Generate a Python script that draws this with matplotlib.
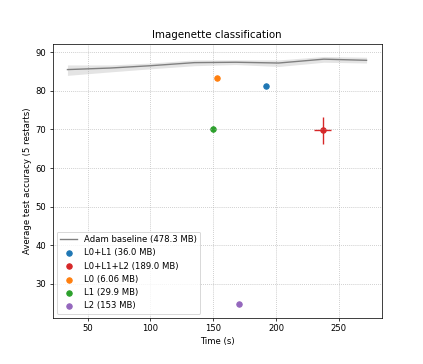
import matplotlib
matplotlib.use("Agg")
import matplotlib.pyplot as plt
import numpy as np

# Baseline (Adam) curve
base_time = [34, 68, 100, 135, 168, 202, 238, 272]
base_acc = [85.5, 85.9, 86.5, 87.3, 87.4, 87.2, 88.2, 87.9]
base_lo = [84.0, 84.9, 85.7, 86.5, 86.8, 86.3, 87.4, 87.2]
base_hi = [86.7, 86.7, 87.2, 88.0, 88.0, 88.0, 88.9, 88.7]

# Methods
labels = ["L0+L1 (36.0 MB)", "L0+L1+L2 (189.0 MB)", "L0 (6.06 MB)", "L1 (29.9 MB)", "L2 (153 MB)"]
colors = ["C0", "C3", "C1", "C2", "C4"]
times = [191.6, 237.0, 152.7, 149.5, 170.8]
accs = [81.2, 69.8, 83.4, 70.2, 24.7]
time_err = [0.4, 7.0, 0.4, 0.3, 0.3]
acc_err = [0.3, 3.5, 0.4, 0.8, 0.3]

plt.rcParams["font.size"] = 9.3

dpi = 66
fig = plt.figure(figsize=(423 / dpi, 364 / dpi), dpi=dpi)
ax = fig.add_axes([52.5 / 423, 1 - 318 / 364, (381.5 - 52.5) / 423, (318 - 44) / 364])

ax.fill_between(base_time, base_lo, base_hi, color="lightgray", alpha=0.6, linewidth=0)
ax.plot(base_time, base_acc, color="gray", label="Adam baseline (478.3 MB)")

for t, a, te, ae, c, l in zip(times, accs, time_err, acc_err, colors, labels):
    ax.errorbar(t, a, xerr=te, yerr=ae, fmt="none", ecolor=c)
    ax.scatter(t, a, color=c, label=l)

ax.grid(True, linestyle=":", color="#b0b0b0")
ax.set_title("Imagenette classification")
ax.set_xlabel("Time (s)")
ax.set_ylabel("Average test accuracy (5 restarts)")
ax.legend(loc="lower left")

fig.savefig("out.png", dpi=dpi)
